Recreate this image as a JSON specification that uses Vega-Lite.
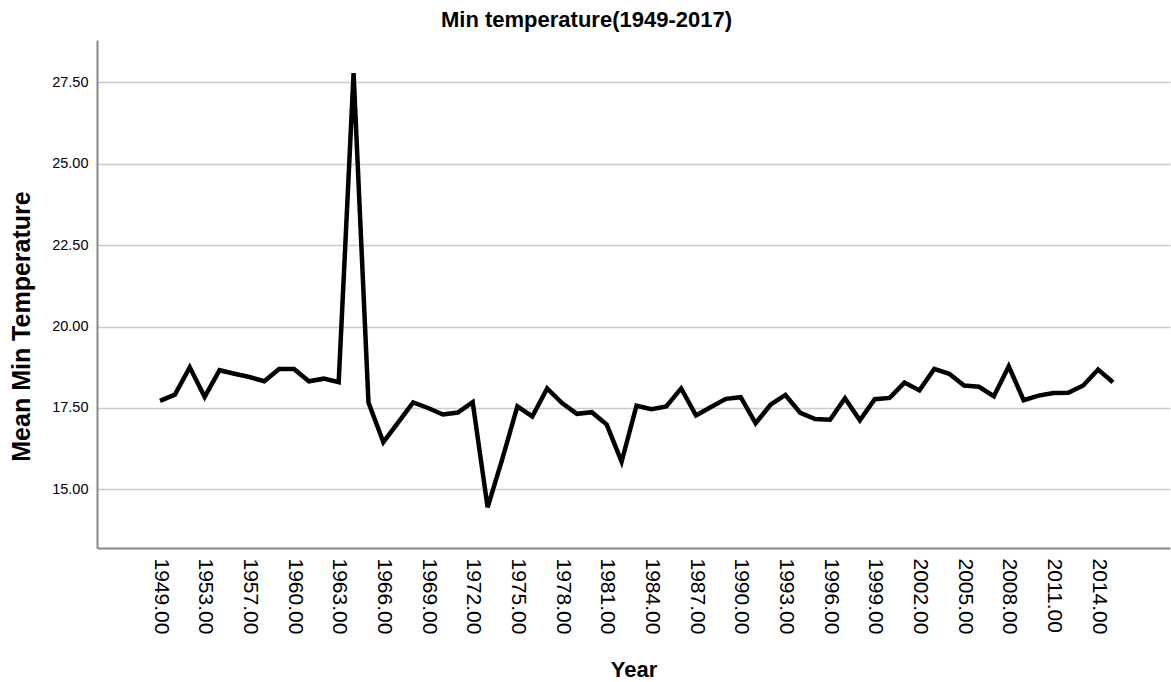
{
  "$schema": "https://vega.github.io/schema/vega-lite/v6.json",
  "autosize": {"type": "none"},
  "padding": {"left": 97, "top": 40, "right": 1, "bottom": 134},
  "width": 1073,
  "height": 508,
  "title": {
    "text": "Min temperature(1949-2017)",
    "fontSize": 22,
    "font": "Liberation Sans",
    "fontWeight": "bold",
    "color": "#000000",
    "anchor": "middle",
    "dx": -47,
    "offset": 8
  },
  "data": {
    "values": [
      {"Year": 1949, "MinTemp": 17.72},
      {"Year": 1950, "MinTemp": 17.91},
      {"Year": 1951, "MinTemp": 18.75},
      {"Year": 1953, "MinTemp": 17.84},
      {"Year": 1954, "MinTemp": 18.66},
      {"Year": 1955, "MinTemp": 18.55},
      {"Year": 1957, "MinTemp": 18.45},
      {"Year": 1958, "MinTemp": 18.32},
      {"Year": 1959, "MinTemp": 18.70},
      {"Year": 1960, "MinTemp": 18.70},
      {"Year": 1961, "MinTemp": 18.32},
      {"Year": 1962, "MinTemp": 18.40},
      {"Year": 1963, "MinTemp": 18.29},
      {"Year": 1964, "MinTemp": 27.78},
      {"Year": 1965, "MinTemp": 17.67},
      {"Year": 1966, "MinTemp": 16.45},
      {"Year": 1967, "MinTemp": 17.06},
      {"Year": 1968, "MinTemp": 17.67},
      {"Year": 1969, "MinTemp": 17.50},
      {"Year": 1970, "MinTemp": 17.30},
      {"Year": 1971, "MinTemp": 17.36},
      {"Year": 1972, "MinTemp": 17.68},
      {"Year": 1973, "MinTemp": 14.45},
      {"Year": 1974, "MinTemp": 15.95},
      {"Year": 1975, "MinTemp": 17.55},
      {"Year": 1976, "MinTemp": 17.24},
      {"Year": 1977, "MinTemp": 18.10},
      {"Year": 1978, "MinTemp": 17.65},
      {"Year": 1979, "MinTemp": 17.32},
      {"Year": 1980, "MinTemp": 17.37},
      {"Year": 1981, "MinTemp": 16.99},
      {"Year": 1982, "MinTemp": 15.85},
      {"Year": 1983, "MinTemp": 17.57},
      {"Year": 1984, "MinTemp": 17.46},
      {"Year": 1985, "MinTemp": 17.55},
      {"Year": 1986, "MinTemp": 18.10},
      {"Year": 1987, "MinTemp": 17.27},
      {"Year": 1988, "MinTemp": 17.53},
      {"Year": 1989, "MinTemp": 17.78},
      {"Year": 1990, "MinTemp": 17.83},
      {"Year": 1991, "MinTemp": 17.03},
      {"Year": 1992, "MinTemp": 17.60},
      {"Year": 1993, "MinTemp": 17.90},
      {"Year": 1994, "MinTemp": 17.35},
      {"Year": 1995, "MinTemp": 17.16},
      {"Year": 1996, "MinTemp": 17.14},
      {"Year": 1997, "MinTemp": 17.80},
      {"Year": 1998, "MinTemp": 17.12},
      {"Year": 1999, "MinTemp": 17.77},
      {"Year": 2000, "MinTemp": 17.81},
      {"Year": 2001, "MinTemp": 18.28},
      {"Year": 2002, "MinTemp": 18.04},
      {"Year": 2003, "MinTemp": 18.70},
      {"Year": 2004, "MinTemp": 18.55},
      {"Year": 2005, "MinTemp": 18.19},
      {"Year": 2006, "MinTemp": 18.15},
      {"Year": 2007, "MinTemp": 17.86},
      {"Year": 2008, "MinTemp": 18.78},
      {"Year": 2009, "MinTemp": 17.74},
      {"Year": 2010, "MinTemp": 17.88},
      {"Year": 2011, "MinTemp": 17.96},
      {"Year": 2012, "MinTemp": 17.97},
      {"Year": 2013, "MinTemp": 18.19},
      {"Year": 2014, "MinTemp": 18.68},
      {"Year": 2017, "MinTemp": 18.29}
    ]
  },
  "mark": {"type": "line", "color": "#000000", "strokeWidth": 4.5, "strokeJoin": "miter"},
  "encoding": {
    "x": {
      "field": "Year",
      "type": "ordinal",
      "scale": {
        "type": "point",
        "padding": 0.53,
        "align": 0.218,
        "domain": [1945, 1946, 1947, 1948, 1949, 1950, 1951, 1953, 1954, 1955, 1957, 1958, 1959, 1960, 1961, 1962, 1963, 1964, 1965, 1966, 1967, 1968, 1969, 1970, 1971, 1972, 1973, 1974, 1975, 1976, 1977, 1978, 1979, 1980, 1981, 1982, 1983, 1984, 1985, 1986, 1987, 1988, 1989, 1990, 1991, 1992, 1993, 1994, 1995, 1996, 1997, 1998, 1999, 2000, 2001, 2002, 2003, 2004, 2005, 2006, 2007, 2008, 2009, 2010, 2011, 2012, 2013, 2014, 2017, 2018, 2019, 2020]
      },
      "axis": {
        "title": "Year",
        "values": [1949, 1953, 1957, 1960, 1963, 1966, 1969, 1972, 1975, 1978, 1981, 1984, 1987, 1990, 1993, 1996, 1999, 2002, 2005, 2008, 2011, 2014],
        "labelExpr": "format(datum.value, '.2f')",
        "labelAngle": 90,
        "labelAlign": "left",
        "labelBaseline": "middle",
        "labelFontSize": 21,
        "labelPadding": 10,
        "ticks": false,
        "grid": false,
        "titleY": 128,
        "titleBaseline": "alphabetic"
      }
    },
    "y": {
      "field": "MinTemp",
      "type": "quantitative",
      "scale": {"domain": [13.2, 28.8], "nice": false, "zero": false},
      "axis": {
        "title": "Mean Min Temperature",
        "titleFontSize": 25,
        "values": [15, 17.5, 20, 22.5, 25, 27.5],
        "format": ".2f",
        "labelFontSize": 14.5,
        "labelPadding": 9,
        "ticks": false,
        "grid": true,
        "titleX": -68,
        "titleY": 286,
        "titleAngle": -90,
        "titleAlign": "center",
        "titleBaseline": "alphabetic"
      }
    }
  },
  "config": {
    "view": {"stroke": null},
    "font": "Liberation Sans",
    "axis": {
      "labelFont": "Liberation Sans",
      "labelColor": "#000000",
      "titleFont": "Liberation Sans",
      "titleFontSize": 22,
      "titleFontWeight": "bold",
      "titleColor": "#000000",
      "domainColor": "#888888",
      "domainWidth": 2,
      "gridColor": "#cccccc",
      "gridWidth": 1.5
    }
  }
}
